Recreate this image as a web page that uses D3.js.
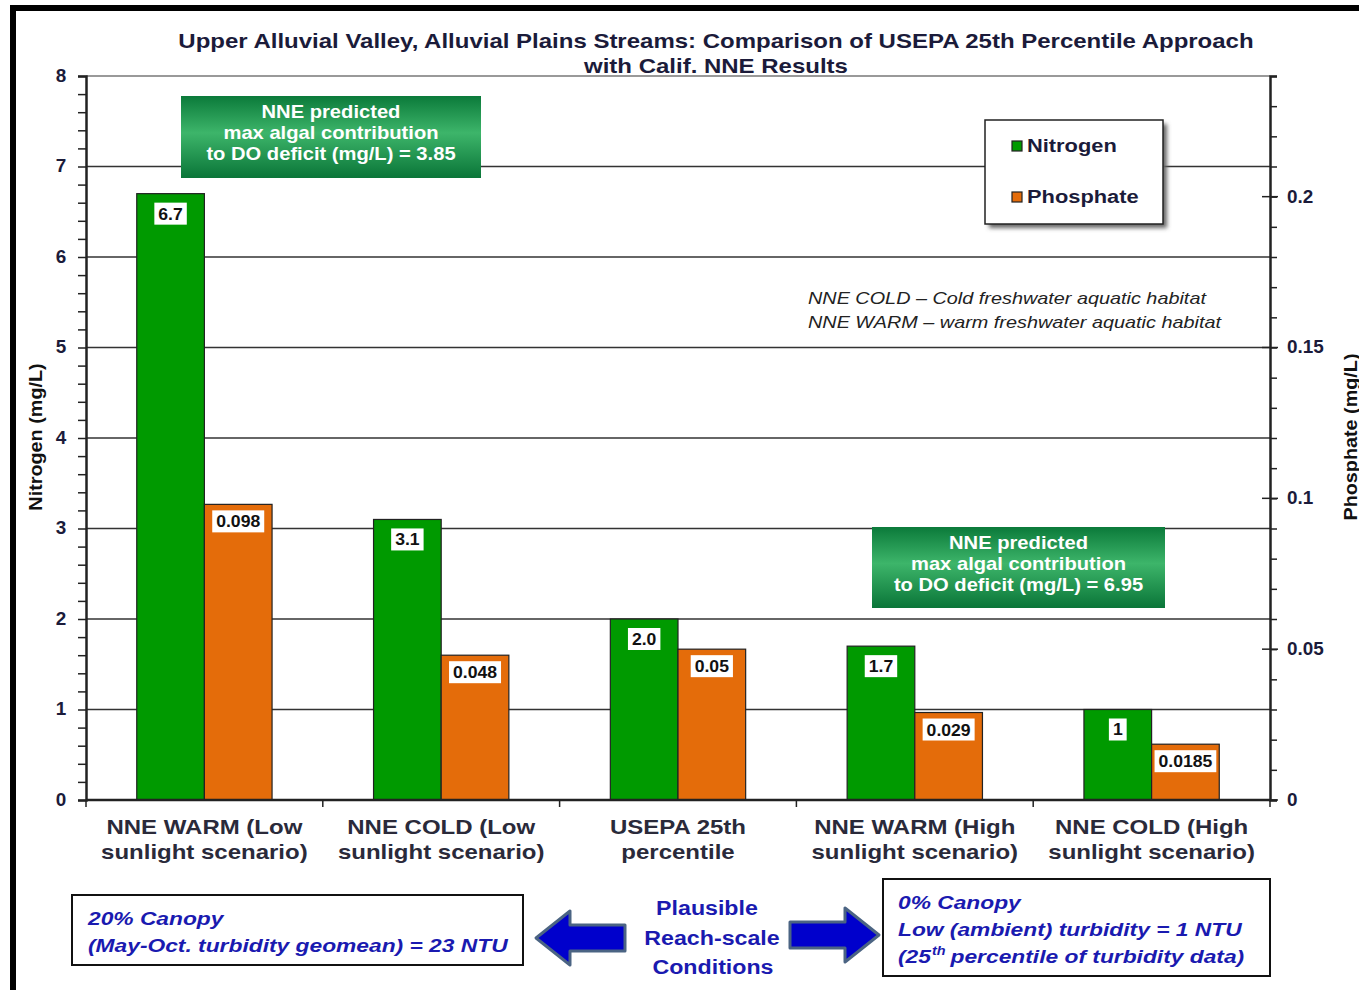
<!DOCTYPE html>
<html>
<head>
<meta charset="utf-8">
<script src="https://cdn.jsdelivr.net/npm/d3@7"></script>
<style>
  body { margin: 0; background: #fff; }
  svg { display: block; font-family: Arial, "Liberation Sans", sans-serif; }
</style>
</head>
<body>
<svg id="chart" width="1359" height="990"></svg>
<script>
// DATA
var categories = [
    ["NNE WARM (Low", "sunlight scenario)"],
    ["NNE COLD (Low", "sunlight scenario)"],
    ["USEPA 25th", "percentile"],
    ["NNE WARM (High", "sunlight scenario)"],
    ["NNE COLD (High", "sunlight scenario)"]
];
var nitrogen = [6.7, 3.1, 2.0, 1.7, 1];
var nitrogenLabels = ["6.7", "3.1", "2.0", "1.7", "1"];
var phosphate = [0.098, 0.048, 0.05, 0.029, 0.0185];
var phosphateLabels = ["0.098", "0.048", "0.05", "0.029", "0.0185"];
var leftTicks = [0, 1, 2, 3, 4, 5, 6, 7, 8];
var rightTicks = [0, 0.05, 0.1, 0.15, 0.2];
var seriesNames = ["Nitrogen", "Phosphate"];
var seriesColors = ["#009a00", "#e46c0a"];

var svg = d3.select("#chart");

// plot area (note: "top" is taken by window.top)
var plotLeft = 86, plotRight = 1270, plotTop = 76, plotBottom = 800;
var catKeys = d3.range(categories.length);

var x0 = d3.scaleBand().domain(catKeys).range([plotLeft, plotRight]).paddingInner(0).paddingOuter(0);
var x1 = d3.scaleBand().domain([0, 1]).range([0, x0.bandwidth()]).paddingInner(0).paddingOuter(0.75);
var yL = d3.scaleLinear().domain([0, 8]).range([plotBottom, plotTop]);
var yR = d3.scaleLinear().domain([0, 0.24]).range([plotBottom, plotTop]);

// the source renders Arial a bit wide, so stretch glyphs horizontally
var addText = function(parent, x, y, str, size, opts) {
    opts = opts || {};
    var f = opts.stretch || 1.2;
    var t = parent.append("text").attr("x", x / f).attr("y", y)
        .attr("transform", "scale(" + f + ",1)")
        .attr("font-size", size)
        .attr("font-weight", opts.weight || "bold")
        .attr("font-style", opts.style || "normal")
        .attr("text-anchor", opts.anchor || "start")
        .attr("fill", opts.fill || "#1b1b3a")
        .text(str);
    t.width = t.node().getComputedTextLength() * f;
    return t;
};

var defs = svg.append("defs");
var grad = defs.append("linearGradient").attr("id", "greenGrad")
    .attr("x1", 0).attr("y1", 0).attr("x2", 0).attr("y2", 1);
grad.append("stop").attr("offset", "0%").attr("stop-color", "#0b7a3a");
grad.append("stop").attr("offset", "45%").attr("stop-color", "#3db56a");
grad.append("stop").attr("offset", "100%").attr("stop-color", "#0a7538");
var blur = defs.append("filter").attr("id", "shadow");
blur.append("feGaussianBlur").attr("stdDeviation", 2);

// outer black frame
svg.append("rect").attr("x", 13).attr("y", 8).attr("width", 1400).attr("height", 1100)
    .attr("fill", "none").attr("stroke", "#000").attr("stroke-width", 6);

// title
addText(svg, 716, 48, "Upper Alluvial Valley, Alluvial Plains Streams: Comparison of USEPA 25th Percentile Approach", 20, {anchor: "middle"});
addText(svg, 716, 73, "with Calif. NNE Results", 20, {anchor: "middle"});

// gridlines
svg.append("g").selectAll("line").data(leftTicks.filter(function(d) { return d > 0 && d < 8; }))
    .enter().append("line")
    .attr("x1", plotLeft).attr("x2", plotRight)
    .attr("y1", function(d) { return yL(d); }).attr("y2", function(d) { return yL(d); })
    .attr("stroke", "#333").attr("stroke-width", 1.5);
svg.append("line").attr("x1", plotLeft).attr("x2", plotRight).attr("y1", plotTop).attr("y2", plotTop)
    .attr("stroke", "#777").attr("stroke-width", 1.5);

// bars
var groups = svg.append("g").selectAll("g").data(catKeys).enter().append("g")
    .attr("transform", function(i) { return "translate(" + x0(i) + ",0)"; });

groups.append("rect")
    .attr("x", x1(0)).attr("width", x1.bandwidth())
    .attr("y", function(i) { return yL(nitrogen[i]); })
    .attr("height", function(i) { return plotBottom - yL(nitrogen[i]); })
    .attr("fill", seriesColors[0]).attr("stroke", "#222").attr("stroke-width", 1.2);
groups.append("rect")
    .attr("x", x1(1)).attr("width", x1.bandwidth())
    .attr("y", function(i) { return yR(phosphate[i]); })
    .attr("height", function(i) { return plotBottom - yR(phosphate[i]); })
    .attr("fill", seriesColors[1]).attr("stroke", "#222").attr("stroke-width", 1.2);

// value labels in white boxes
var addLabel = function(g, cx, yTop, txt) {
    var box = g.append("rect").attr("fill", "#fff");
    var t = addText(g, cx, yTop + 19, txt, 16, {anchor: "middle", fill: "#111", stretch: 1.1});
    var w = t.width + 8;
    box.attr("x", cx - w / 2).attr("y", yTop + 2).attr("width", w).attr("height", 22);
};
groups.each(function(i) {
    var g = d3.select(this);
    addLabel(g.append("g"), x1(0) + x1.bandwidth() / 2, yL(nitrogen[i]) + 7, nitrogenLabels[i]);
    addLabel(g.append("g"), x1(1) + x1.bandwidth() / 2, yR(phosphate[i]) + 4, phosphateLabels[i]);
});

// left axis
var axL = svg.append("g").attr("transform", "translate(" + plotLeft + ",0)")
    .call(d3.axisLeft(yL).tickValues(d3.range(0, 8.01, 0.2)).tickSize(8).tickFormat(""));
axL.selectAll("line").attr("stroke", "#222").attr("stroke-width", 1.5);
axL.select(".domain").attr("stroke", "#222").attr("stroke-width", 2.5);
leftTicks.forEach(function(d) {
    addText(svg, 61, yL(d) + 6, d, 18, {anchor: "middle", stretch: 1.05});
});

// right axis: minor ticks outside, majors across
var axR = svg.append("g").attr("transform", "translate(" + plotRight + ",0)")
    .call(d3.axisRight(yR).tickValues(d3.range(0, 0.2401, 0.01)).tickSize(7).tickFormat(""));
axR.selectAll("line").attr("stroke", "#222").attr("stroke-width", 1.5);
axR.select(".domain").attr("stroke", "#222").attr("stroke-width", 2.5);
svg.append("g").selectAll("line").data(rightTicks).enter().append("line")
    .attr("x1", plotRight - 8).attr("x2", plotRight + 8)
    .attr("y1", function(d) { return yR(d); }).attr("y2", function(d) { return yR(d); })
    .attr("stroke", "#222").attr("stroke-width", 1.5);
rightTicks.forEach(function(d) {
    addText(svg, 1287, yR(d) + 6, d, 18, {stretch: 1.05});
});

// bottom axis
svg.append("line").attr("x1", plotLeft).attr("x2", plotRight).attr("y1", plotBottom).attr("y2", plotBottom)
    .attr("stroke", "#222").attr("stroke-width", 2.5);
svg.append("g").selectAll("line").data(d3.range(categories.length + 1)).enter().append("line")
    .attr("x1", function(i) { return plotLeft + i * x0.step(); })
    .attr("x2", function(i) { return plotLeft + i * x0.step(); })
    .attr("y1", plotBottom).attr("y2", plotBottom + 7)
    .attr("stroke", "#222").attr("stroke-width", 1.5);

catKeys.forEach(function(i) {
    var cx = x0(i) + x0.bandwidth() / 2;
    addText(svg, cx, 834, categories[i][0], 20, {anchor: "middle", fill: "#2a2a3a"});
    addText(svg, cx, 859, categories[i][1], 20, {anchor: "middle", fill: "#2a2a3a"});
});

// axis titles
var ttl = svg.append("g").attr("transform", "translate(42,437) rotate(-90)");
addText(ttl, 0, 0, "Nitrogen (mg/L)", 18, {anchor: "middle", fill: "#111", stretch: 1.1});
var ttr = svg.append("g").attr("transform", "translate(1357,437) rotate(-90)");
addText(ttr, 0, 0, "Phosphate (mg/L)", 18, {anchor: "middle", fill: "#111", stretch: 1.1});

// green annotation boxes
var greenBox = function(x, y, w, h, lines) {
    svg.append("rect").attr("x", x).attr("y", y).attr("width", w).attr("height", h)
        .attr("fill", "url(#greenGrad)");
    lines.forEach(function(s, k) {
        addText(svg, x + w / 2, y + 22 + k * 21, s, 18, {anchor: "middle", fill: "#fff", stretch: 1.12});
    });
};
greenBox(181, 96, 300, 82, ["NNE predicted", "max algal contribution", "to DO deficit (mg/L) = 3.85"]);
greenBox(872, 527, 293, 81, ["NNE predicted", "max algal contribution", "to DO deficit (mg/L) = 6.95"]);

// legend
svg.append("rect").attr("x", 989).attr("y", 124).attr("width", 178).attr("height", 104)
    .attr("fill", "#666").attr("filter", "url(#shadow)");
svg.append("rect").attr("x", 985).attr("y", 120).attr("width", 178).attr("height", 104)
    .attr("fill", "#fff").attr("stroke", "#222").attr("stroke-width", 1.5);
seriesNames.forEach(function(d, i) {
    var g = svg.append("g").attr("transform", "translate(1012," + (141 + i * 51) + ")");
    g.append("rect").attr("width", 10).attr("height", 10)
        .attr("fill", seriesColors[i]).attr("stroke", "#222").attr("stroke-width", 1.2);
    addText(g, 15, 11, d, 19, {stretch: 1.15});
});

// italic notes
addText(svg, 808, 304, "NNE COLD \u2013 Cold freshwater aquatic habitat", 16,
    {weight: "normal", style: "italic", fill: "#222", stretch: 1.24});
addText(svg, 808, 328, "NNE WARM \u2013 warm freshwater aquatic habitat", 16,
    {weight: "normal", style: "italic", fill: "#222", stretch: 1.24});

// bottom condition boxes
var blue = "#1a1ab0";
var bi = {style: "italic", fill: blue, stretch: 1.2};
svg.append("rect").attr("x", 72).attr("y", 895).attr("width", 451).attr("height", 70)
    .attr("fill", "#fff").attr("stroke", "#111").attr("stroke-width", 2);
addText(svg, 88, 925, "20% Canopy", 19, bi);
addText(svg, 88, 952, "(May-Oct. turbidity  geomean) = 23 NTU", 19, bi);

svg.append("rect").attr("x", 883).attr("y", 879).attr("width", 387).attr("height", 97)
    .attr("fill", "#fff").attr("stroke", "#111").attr("stroke-width", 2);
addText(svg, 898, 909, "0% Canopy", 19, bi);
addText(svg, 898, 936, "Low (ambient) turbidity  = 1 NTU", 19, bi);
var p1 = addText(svg, 898, 963, "(25", 19, bi);
var sup = addText(svg, 898 + p1.width + 1, 955, "th", 12, bi);
addText(svg, 898 + p1.width + sup.width + 6, 963, "percentile of turbidity data)", 19, bi);

addText(svg, 707, 915, "Plausible", 20, {anchor: "middle", fill: blue, stretch: 1.16});
addText(svg, 712, 945, "Reach-scale", 20, {anchor: "middle", fill: blue, stretch: 1.16});
addText(svg, 713, 974, "Conditions", 20, {anchor: "middle", fill: blue, stretch: 1.16});

// arrows
var arrowPath = function(tipX, baseX, cy) {
    var dir = baseX > tipX ? 1 : -1;
    var headX = tipX + dir * 34;
    return "M" + tipX + "," + cy +
        " L" + headX + "," + (cy - 27) + " L" + headX + "," + (cy - 13) +
        " L" + baseX + "," + (cy - 13) + " L" + baseX + "," + (cy + 13) +
        " L" + headX + "," + (cy + 13) + " L" + headX + "," + (cy + 27) + " Z";
};
svg.append("path").attr("d", arrowPath(536, 625, 938))
    .attr("fill", "#0000cc").attr("stroke", "#4b6483").attr("stroke-width", 3)
    .attr("stroke-linejoin", "round");
svg.append("path").attr("d", arrowPath(879, 790, 935))
    .attr("fill", "#0000cc").attr("stroke", "#4b6483").attr("stroke-width", 3)
    .attr("stroke-linejoin", "round");
</script>
</body>
</html>
